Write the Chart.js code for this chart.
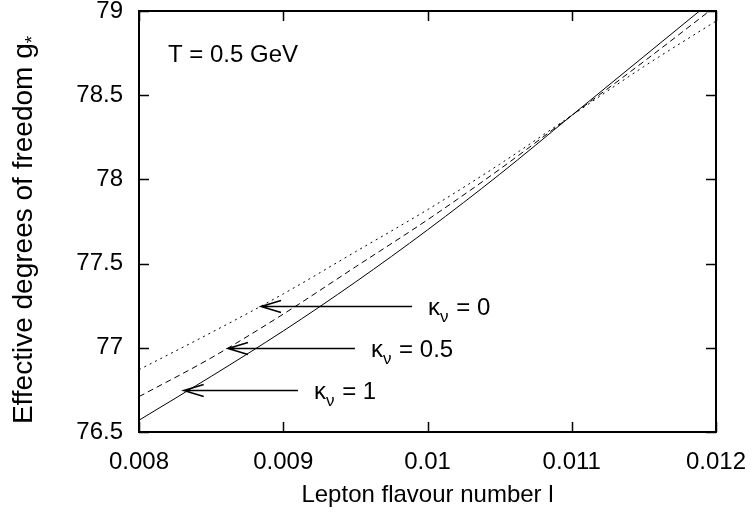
<!DOCTYPE html>
<html>
<head>
<meta charset="utf-8">
<script src="https://cdn.jsdelivr.net/npm/chart.js@4.4.0/dist/chart.umd.min.js"></script>
<style>
  html, body { margin: 0; padding: 0; background: #fff; }
  #wrap { width: 753px; height: 514px; }
</style>
</head>
<body>
<div id="wrap"><canvas id="chart" width="753" height="514"></canvas></div>
<script>
// lepton flavour number l and the effective degrees of freedom for each kappa_nu
const lepton   = [0.008, 0.0085, 0.009, 0.0095, 0.010, 0.0105, 0.011, 0.0115, 0.012];
const gKappa1  = [76.57, 76.83, 77.10, 77.39, 77.70, 78.03, 78.38, 78.73, 79.08];
const gKappa05 = [76.71, 76.94, 77.20, 77.48, 77.76, 78.06, 78.38, 78.70, 79.03];
const gKappa0  = [76.87, 77.09, 77.32, 77.57, 77.82, 78.09, 78.38, 78.67, 78.94];

const xTicks = [0.008, 0.009, 0.010, 0.011, 0.012];
const xTickLabels = ['0.008', '0.009', '0.01', '0.011', '0.012'];
const yTicks = [76.5, 77, 77.5, 78, 78.5, 79];
const yTickLabels = ['76.5', '77', '77.5', '78', '78.5', '79'];

// arrows pointing at the curves
const arrowKappa = ['0', '0.5', '1'];
const arrowY     = [77.25, 77.0, 76.75];
const arrowTail  = [0.009893, 0.009497, 0.009102];
const arrowHead  = [0.008846, 0.008617, 0.00831];

const FONT = "'Liberation Sans', Arial, Helvetica, sans-serif";

function pts(ys) {
    return lepton.map((x, i) => ({ x: x, y: ys[i] }));
}

// no extra room for edge labels, layout padding decides the plot box
function noPad(s) {
    s.paddingLeft = 0; s.paddingRight = 0; s.paddingTop = 0; s.paddingBottom = 0;
}

const frame = {
    id: 'frame',
    afterDraw(chart) {
        const ctx = chart.ctx;
        const a = chart.chartArea;
        const xs = chart.scales.x, ys = chart.scales.y;
        ctx.save();
        ctx.strokeStyle = '#000';

        // inner ticks, mirrored on all four sides
        ctx.lineWidth = 1.5;
        ctx.beginPath();
        xTicks.forEach(v => {
            const px = Math.round(xs.getPixelForValue(v)) + 0.5;
            ctx.moveTo(px, a.bottom); ctx.lineTo(px, a.bottom - 10);
            ctx.moveTo(px, a.top); ctx.lineTo(px, a.top + 10);
        });
        yTicks.forEach(v => {
            const py = Math.round(ys.getPixelForValue(v)) + 0.5;
            ctx.moveTo(a.left, py); ctx.lineTo(a.left + 10, py);
            ctx.moveTo(a.right, py); ctx.lineTo(a.right - 10, py);
        });
        ctx.stroke();

        ctx.lineWidth = 2;
        ctx.strokeRect(a.left, a.top, a.right - a.left, a.bottom - a.top);

        // arrows + kappa labels
        ctx.lineWidth = 1.5;
        arrowKappa.forEach((k, i) => {
            const y = Math.round(ys.getPixelForValue(arrowY[i])) + 0.5;
            const xt = xs.getPixelForValue(arrowTail[i]);
            const xh = xs.getPixelForValue(arrowHead[i]);
            ctx.beginPath();
            ctx.moveTo(xt, y); ctx.lineTo(xh, y);
            ctx.moveTo(xh + 20, y - 6); ctx.lineTo(xh, y); ctx.lineTo(xh + 20, y + 6);
            ctx.stroke();

            let tx = xt + 16;
            const base = y + 8;
            ctx.fillStyle = '#000';
            ctx.textBaseline = 'alphabetic';
            ctx.textAlign = 'left';
            ctx.font = '24px ' + FONT;
            ctx.fillText('κ', tx, base);
            tx += ctx.measureText('κ').width;
            ctx.font = '17px ' + FONT;
            ctx.fillText('ν', tx, base + 7);
            tx += ctx.measureText('ν').width + 1;
            ctx.font = '24px ' + FONT;
            ctx.fillText(' = ' + k, tx, base);
        });

        // temperature note
        ctx.font = '24px ' + FONT;
        ctx.fillText('T = 0.5 GeV', 168, 62);

        // x title
        ctx.textAlign = 'center';
        ctx.fillText('Lepton flavour number l', (a.left + a.right) / 2, 502);

        // y title with subscript star
        ctx.translate(32, 230);
        ctx.rotate(-Math.PI / 2);
        ctx.font = '28px ' + FONT;
        const main = 'Effective degrees of freedom g';
        const wMain = ctx.measureText(main).width;
        ctx.font = '19px ' + FONT;
        const wStar = ctx.measureText('*').width;
        const start = -(wMain + wStar) / 2;
        ctx.textAlign = 'left';
        ctx.font = '28px ' + FONT;
        ctx.fillText(main, start, 0);
        ctx.font = '19px ' + FONT;
        ctx.fillText('*', start + wMain, 6);
        ctx.restore();
    }
};

new Chart(document.getElementById('chart'), {
    type: 'line',
    data: {
        datasets: [
            { label: 'kappa = 1', data: pts(gKappa1), borderColor: '#000', borderWidth: 1 },
            { label: 'kappa = 0.5', data: pts(gKappa05), borderColor: '#000', borderWidth: 1, borderDash: [6, 4] },
            { label: 'kappa = 0', data: pts(gKappa0), borderColor: '#000', borderWidth: 1, borderDash: [2, 4] }
        ]
    },
    options: {
        responsive: false,
        animation: false,
        events: [],
        layout: { padding: { top: 11, right: 37, left: 0, bottom: 0 } },
        elements: {
            point: { radius: 0 },
            line: { cubicInterpolationMode: 'monotone', fill: false }
        },
        plugins: { legend: { display: false }, tooltip: { enabled: false } },
        scales: {
            x: {
                type: 'linear',
                min: 0.008,
                max: 0.012,
                grid: { display: false, drawTicks: false },
                border: { display: false },
                afterBuildTicks: s => { s.ticks = xTicks.map(v => ({ value: v })); },
                afterFit: s => { s.height = 82; noPad(s); },
                ticks: {
                    color: '#000',
                    padding: 16,
                    maxRotation: 0,
                    autoSkip: false,
                    font: { size: 24, family: FONT },
                    callback: (v, i) => xTickLabels[i]
                }
            },
            y: {
                min: 76.5,
                max: 79,
                grid: { display: false, drawTicks: false },
                border: { display: false },
                afterBuildTicks: s => { s.ticks = yTicks.map(v => ({ value: v })); },
                afterFit: s => { s.width = 139; noPad(s); },
                ticks: {
                    color: '#000',
                    padding: 16,
                    autoSkip: false,
                    font: { size: 24, family: FONT },
                    callback: (v, i) => yTickLabels[i]
                }
            }
        }
    },
    plugins: [frame]
});
</script>
</body>
</html>
